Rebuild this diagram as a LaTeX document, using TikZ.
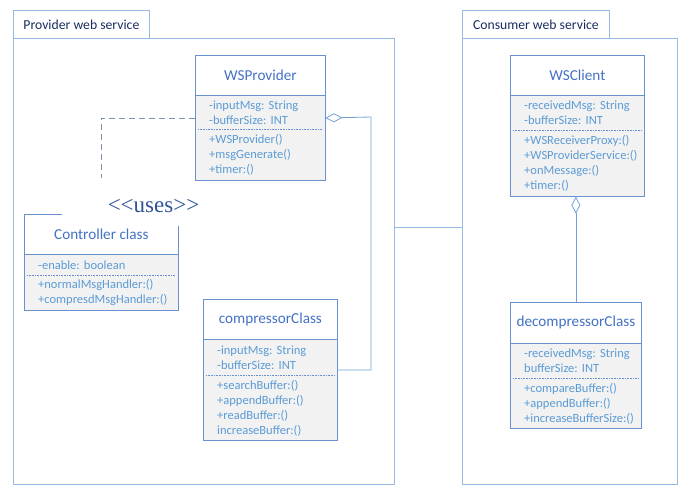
\documentclass[tikz,border=0pt]{standalone}
\usepackage{fontspec}
\setmainfont{Carlito}
\newfontfamily\usesfont{Liberation Serif}
\usetikzlibrary{arrows.meta}

\definecolor{pkgrand}{RGB}{150,186,226}
\definecolor{pkgtext}{RGB}{25,45,95}
\definecolor{klrand}{RGB}{105,145,208}
\definecolor{kltext}{RGB}{68,114,196}
\definecolor{attrtext}{RGB}{91,155,213}
\definecolor{klfill}{RGB}{242,242,242}
\definecolor{verbfarbe}{RGB}{112,160,218}
\definecolor{nutztfarbe}{RGB}{125,145,180}
\definecolor{usestext}{RGB}{47,84,150}

\begin{document}
\frenchspacing
\hyphenpenalty=10000\relax
\exhyphenpenalty=10000\relax
\begin{tikzpicture}[x=1pt,y=-1pt,
        paket/.style={draw=pkgrand, line width=0.8pt, anchor=north west, inner sep=0pt},
        reiter/.style={paket, minimum height=28pt, text=pkgtext, font=\fontsize{13.7}{15}\selectfont},
        kopf/.style={draw=klrand, fill=white, line width=0.8pt, anchor=north west, inner sep=0pt,
            minimum height=40pt, text=kltext, font=\fontsize{15.2}{17}\selectfont},
        felder/.style={fill=klfill, anchor=north west, inner xsep=14pt, inner ysep=0pt, align=left,
            text=attrtext, font=\fontsize{12.5}{15}\selectfont},
        klasse/.style={draw=klrand, line width=0.8pt},
        trenner/.style={draw=klrand, densely dotted, line width=0.6pt},
        aggr/.style={draw=verbfarbe, line width=0.8pt, -{Diamond[open,length=17pt,width=9pt]}},
        nutzt/.style={draw=nutztfarbe, dash pattern=on 6pt off 4pt, line width=0.8pt}]
        \useasboundingbox (0,0) rectangle (681,485);

        % Pakete
        \node[reiter, minimum width=136pt] (provtab) at (13,10) {Provider web service};
        \node[paket, minimum width=381pt, minimum height=446pt] (provpkg) at (13,38) {};
        \node[reiter, minimum width=147pt] (constab) at (462,10) {Consumer web service};
        \node[paket, minimum width=215pt, minimum height=446pt] (conspkg) at (462,38) {};
        \draw[draw=pkgrand, line width=0.8pt] (provpkg.east |- 0,227) -- (conspkg.west |- 0,227);

        % WSProvider
        \node[kopf, minimum width=130pt] (wsp) at (195,55) {WSProvider};
        \node[felder, text width=102pt, minimum height=33pt] (wspf) at (wsp.south west)
            {-inputMsg:~String\\-bufferSize:~INT};
        \node[felder, text width=102pt, minimum height=51pt] (wspm) at (wspf.south west)
            {+WSProvider()\\+msgGenerate()\\+timer:()};
        \draw[klasse] (wsp.north west) rectangle (wspm.south east);
        \draw[trenner] ([xshift=3pt]wspf.south west) -- ([xshift=-3pt]wspf.south east);

        % Controller class
        \node[kopf, minimum width=154pt] (ctl) at (24,214) {Controller class};
        \node[felder, text width=126pt, minimum height=20pt] (ctlf) at (ctl.south west)
            {-enable:~boolean};
        \node[felder, text width=126pt, minimum height=35pt] (ctlm) at (ctlf.south west)
            {+normalMsgHandler:()\\+compresdMsgHandler:()};
        \draw[klasse] (ctl.north west) rectangle (ctlm.south east);
        \draw[trenner] ([xshift=3pt]ctlf.south west) -- ([xshift=-3pt]ctlf.south east);

        % compressorClass
        \node[kopf, minimum width=134pt] (cmp) at (203,299) {compressorClass};
        \node[felder, text width=106pt, minimum height=35pt] (cmpf) at (cmp.south west)
            {-inputMsg:~String\\-bufferSize:~INT};
        \node[felder, text width=106pt, minimum height=65pt] (cmpm) at (cmpf.south west)
            {+searchBuffer:()\\+appendBuffer:()\\+readBuffer:()\\increaseBuffer:()};
        \draw[klasse] (cmp.north west) rectangle (cmpm.south east);
        \draw[trenner] ([xshift=3pt]cmpf.south west) -- ([xshift=-3pt]cmpf.south east);

        % WSClient
        \node[kopf, minimum width=134pt] (wsc) at (510,55) {WSClient};
        \node[felder, text width=106pt, minimum height=34pt] (wscf) at (wsc.south west)
            {-receivedMsg:~String\\-bufferSize:~INT};
        \node[felder, text width=106pt, minimum height=66pt] (wscm) at (wscf.south west)
            {+WSReceiverProxy:()\\+WSProviderService:()\\+onMessage:()\\+timer:()};
        \draw[klasse] (wsc.north west) rectangle (wscm.south east);
        \draw[trenner] ([xshift=3pt]wscf.south west) -- ([xshift=-3pt]wscf.south east);

        % decompressorClass
        \node[kopf, minimum width=131pt, minimum height=41pt] (dec) at (510,302) {decompressorClass};
        \node[felder, text width=103pt, minimum height=34pt] (decf) at (dec.south west)
            {-receivedMsg:~String\\bufferSize:~INT};
        \node[felder, text width=103pt, minimum height=50pt] (decm) at (decf.south west)
            {+compareBuffer:()\\+appendBuffer:()\\+increaseBufferSize:()};
        \draw[klasse] (dec.north west) rectangle (decm.south east);
        \draw[trenner] ([xshift=3pt]decf.south west) -- ([xshift=-3pt]decf.south east);

        % Verbindungen
        \coordinate (knick) at (371,117);
        \draw[aggr] ([yshift=-12.5pt]cmpf.east) -| (knick) -- ([yshift=-5.5pt]wspf.east);
        \draw[aggr] (dec.north) -- (dec.north |- wscm.south);

        \coordinate (usesende) at (101,178);
        \draw[nutzt] ([yshift=-5.5pt]wspf.west) -| (usesende);
        \node[fill=white, minimum width=183pt, minimum height=40pt, inner sep=0pt, text=usestext,
            font=\usesfont\fontsize{23}{25}\selectfont] (uses) at (153.5,206)
            {\textless\textless uses\textgreater\textgreater};
    \end{tikzpicture}
\end{document}
